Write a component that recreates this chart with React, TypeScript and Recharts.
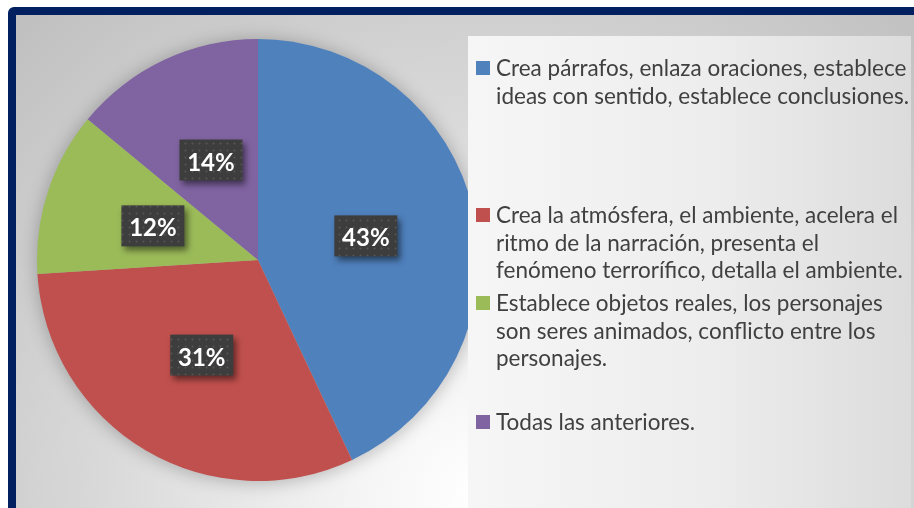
import React from 'react';
import { PieChart, Pie, Cell, Legend } from 'recharts';

const categories = [
  'Crea párrafos, enlaza oraciones, establece\nideas con sentido, establece conclusiones.',
  'Crea la atmósfera, el ambiente, acelera el\nritmo de la narración, presenta el\nfenómeno terrorífico, detalla el ambiente.',
  'Establece objetos reales, los personajes\nson seres animados, conflicto entre los\npersonajes.',
  'Todas las anteriores.',
];
const values = [43, 31, 12, 14];
const colors = ['#4F81BD', '#C0504D', '#9BBB59', '#8064A2'];

const data = categories.map((name, i) => ({ name, value: values[i] }));

// top of each legend entry inside the legend box (layout only)
const legendTops = [18, 165, 253, 372];

const RAD = Math.PI / 180;

function PctLabel(props: any) {
  const { cx, cy, midAngle, outerRadius, value, index } = props;
  const r = outerRadius * 0.5;
  const x = cx + r * Math.cos(-midAngle * RAD);
  const y = cy + r * Math.sin(-midAngle * RAD);
  const w = 63;
  const h = 41;
  return (
    <g style={{ filter: 'drop-shadow(3px 4px 3px rgba(0,0,0,0.5))' }}>
      <defs>
        <pattern id={`dots${index}`} width="7" height="7" patternUnits="userSpaceOnUse">
          <rect width="7" height="7" fill="#3d3d3d" />
          <circle cx="3.5" cy="3.5" r="1" fill="#565656" />
        </pattern>
      </defs>
      <rect x={x - w / 2} y={y - h / 2} width={w} height={h} fill={`url(#dots${index})`} />
      <text
        x={x}
        y={y + 1}
        textAnchor="middle"
        dominantBaseline="central"
        fill="#fff"
        fontFamily="Lato"
        fontWeight={700}
        fontSize={24}
      >
        {value}%
      </text>
    </g>
  );
}

function LegendBox() {
  return (
    <div
      style={{
        position: 'relative',
        width: 443,
        height: 472,
        background: 'linear-gradient(to right, #f6f6f6 0%, #ededed 55%, #dcdcdc 100%)',
        fontFamily: 'Lato',
        fontSize: 22.5,
        lineHeight: '27.5px',
        color: '#404040',
      }}
    >
      {categories.map((name, i) => (
        <div key={i} style={{ position: 'absolute', left: 8, top: legendTops[i], display: 'flex' }}>
          <span
            style={{
              display: 'inline-block',
              width: 14,
              height: 14,
              background: colors[i],
              marginTop: 7,
              marginRight: 6,
              flex: 'none',
            }}
          />
          <span style={{ whiteSpace: 'pre' }}>{name}</span>
        </div>
      ))}
    </div>
  );
}

export default function App() {
  return (
    <div style={{ position: 'absolute', left: 0, top: 0, width: 914, height: 508, overflow: 'hidden', background: '#fff' }}>
      <div
        style={{
          position: 'absolute',
          left: 8,
          top: 7,
          width: 930,
          height: 530,
          boxSizing: 'border-box',
          border: '8px solid #002060',
          borderRadius: 6,
          background:
            'radial-gradient(circle 700px at 462px 478px, #ffffff 0%, #f4f4f4 18%, #d8d8d8 55%, #bcbcbc 100%)',
        }}
      />
      <style>{'.pie-shadow { filter: blur(6px); }'}</style>
      <div style={{ position: 'absolute', left: 0, top: 0 }}>
        <PieChart width={914} height={508} margin={{ top: 0, right: 0, bottom: 0, left: 0 }}>
          <Pie
            data={data}
            dataKey="value"
            nameKey="name"
            cx={258}
            cy={261}
            outerRadius={223}
            startAngle={90}
            endAngle={-270}
            fill="rgba(0,0,0,0.22)"
            stroke="none"
            className="pie-shadow"
            legendType="none"
            isAnimationActive={false}
          />
          <Pie
            data={data}
            dataKey="value"
            nameKey="name"
            cx={258}
            cy={260}
            outerRadius={221}
            startAngle={90}
            endAngle={-270}
            stroke="none"
            label={PctLabel}
            labelLine={false}
            isAnimationActive={false}
          >
            {data.map((d, i) => (
              <Cell key={d.name} fill={colors[i]} />
            ))}
          </Pie>
          <Legend
            layout="vertical"
            align="right"
            verticalAlign="top"
            content={() => <LegendBox />}
            wrapperStyle={{ left: 468, top: 36, width: 443, height: 472 }}
          />
        </PieChart>
      </div>
    </div>
  );
}
